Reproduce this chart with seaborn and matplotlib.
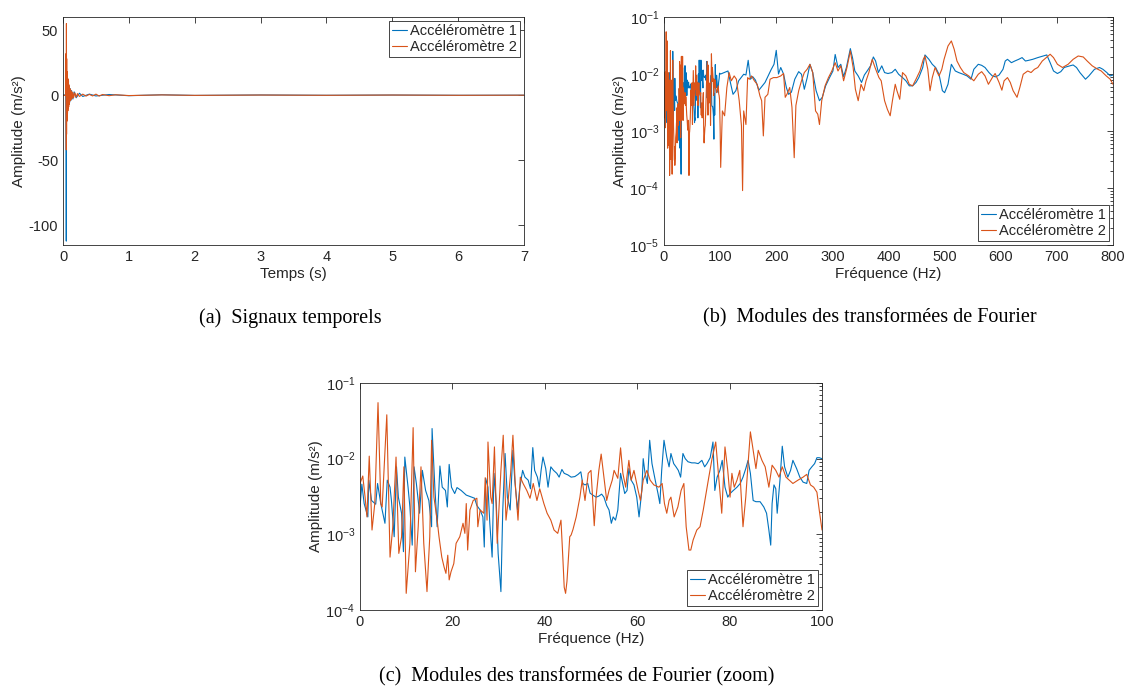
import numpy as np
import pandas as pd
import matplotlib
matplotlib.use("Agg")
import matplotlib.pyplot as plt
import seaborn as sns

# ---- data ----
labels = ["Accéléromètre 1", "Accéléromètre 2"]
colors = ["#0072BD", "#D95319"]

# (a) time signals
t_acc1 = [0.0, 0.03, 0.045, 0.048, 0.050, 0.052, 0.054, 0.056, 0.058, 0.060, 0.063,
          0.066, 0.070, 0.075, 0.080, 0.085, 0.090, 0.095, 0.100, 0.110, 0.120, 0.130,
          0.150, 0.170, 0.200, 0.250, 0.300, 0.400, 0.500, 0.700, 1.0, 1.5, 2.0, 3.0,
          4.0, 5.0, 6.0, 7.0]
a_acc1 = [0.0, 0.2, -0.5, -45, -112, 17, -20, 16, -15, 13, -12,
          11, -10, 9, -8, 7.5, -7, 6, -5.5, 5, -4, 3.5,
          -3, 2.5, -2, 1.5, -1.0, 0.8, -0.6, 0.5, -0.4, 0.3, -0.2, 0.15,
          -0.1, 0.1, -0.1, 0.0]
t_acc2 = [0.0, 0.03, 0.045, 0.048, 0.050, 0.052, 0.054, 0.056, 0.058, 0.060, 0.062,
          0.065, 0.068, 0.071, 0.074, 0.077, 0.080, 0.083, 0.086, 0.089, 0.092, 0.095,
          0.100, 0.105, 0.110, 0.115, 0.120, 0.130, 0.140, 0.150, 0.160, 0.180, 0.200,
          0.220, 0.250, 0.300, 0.350, 0.400, 0.450, 0.500, 0.550, 0.600, 0.700, 0.800,
          1.0, 1.5, 2.0, 3.0, 4.0, 5.0, 6.0, 7.0]
a_acc2 = [0.0, -0.2, 0.5, 32, -42, 55, -30, 28, -20, 18, -16,
          15, -14, 13, -12, 12, -10, 11, -9, 8, -7, 6,
          -5, 5, -4, 4, -3.5, 3, -2.5, 2.2, -2, 1.8, -1.5,
          1.2, -1.0, 0.8, -0.7, 0.6, -0.6, 0.8, -0.7, 0.5, -0.4, 0.3,
          -0.3, 0.2, -0.15, 0.1, -0.1, 0.1, -0.1, 0.0]

# (c) Fourier modules 0-100 Hz
f_low_acc1 = [0.0, 0.4, 0.9, 1.7, 1.9, 2.5, 3.4, 3.8, 4.5, 5.4, 5.9, 6.5, 6.8, 7.4, 7.9,
              8.3, 9.0, 9.4, 9.7, 10.4, 10.8, 11.3, 11.7, 12.2, 12.9, 13.5, 14.2, 14.9,
              15.5, 15.6, 16.2, 16.7, 17.3, 17.8, 18.5, 18.9, 19.3, 19.8, 20.5, 21.0,
              21.9, 23.0, 24.8, 25.3, 26.0, 26.6, 26.9, 27.2, 27.7, 28.1, 28.6, 29.0,
              29.5, 29.9, 30.5, 30.9, 31.4, 31.9, 32.5, 33.1, 33.5, 34.1, 34.6, 35.2,
              35.7, 36.4, 36.9, 37.4, 37.8, 38.4, 38.8, 39.2, 39.6, 40.2, 40.7, 41.3,
              41.9, 42.6, 43.1, 43.7, 44.2, 45.0, 45.7, 46.5, 47.2, 47.8, 48.2, 48.7,
              49.3, 49.8, 50.4, 51.1, 51.7, 52.3, 52.8, 53.4, 53.9, 54.4, 54.8, 55.3,
              55.8, 56.4, 56.7, 57.3, 57.8, 58.2, 58.7, 59.3, 59.9, 60.4, 61.0, 61.3,
              61.7, 62.2, 62.7, 63.2, 63.9, 64.5, 64.9, 65.3, 65.8, 66.4, 66.9, 67.3,
              67.9, 68.4, 68.9, 69.4, 69.9, 70.4, 71.0, 71.8, 72.5, 73.2, 74.0, 74.6,
              75.1, 75.8, 76.4, 76.8, 77.3, 77.9, 78.4, 79.0, 79.6, 80.1, 80.8, 81.6,
              82.3, 82.9, 83.5, 84.0, 84.5, 85.1, 85.7, 86.6, 87.4, 88.0, 88.5, 88.9,
              89.2, 89.6, 90.0, 90.3, 90.9, 91.4, 91.9, 92.6, 93.2, 93.7, 94.5, 95.2,
              95.9, 96.7, 97.2, 97.8, 98.4, 98.9, 99.4, 100.0]
m_low_acc1 = [2.3e-3, 4.6e-3, 2.55e-3, 1.7e-3, 5.2e-3, 2.8e-3, 2.5e-3, 4.7e-3, 2.55e-3,
              1.4e-3, 5.2e-3, 4.2e-3, 2.8e-3, 9.3e-4, 7.8e-3, 3.1e-3, 1.9e-3, 5.9e-4,
              1.05e-2, 4.2e-3, 2.3e-3, 7.2e-4, 7.8e-3, 4.7e-3, 1.9e-3, 7.0e-3, 3.8e-3,
              2.8e-3, 1.26e-3, 2.5e-2, 4.2e-3, 1.26e-3, 8.0e-3, 4.2e-3, 3.8e-3, 2.3e-3,
              8.4e-3, 4.2e-3, 3.46e-3, 4.15e-3, 3.8e-3, 3.3e-3, 3.0e-3, 2.4e-3, 2.1e-3,
              1.7e-3, 6.8e-4, 5.5e-3, 4.2e-3, 1.4e-3, 5.0e-4, 6.4e-3, 2.55e-3, 5.6e-4,
              1.75e-4, 2.1e-3, 1.17e-2, 3.1e-3, 2.1e-3, 1.29e-2, 5.2e-3, 2.1e-3, 4.2e-3,
              7.0e-3, 5.7e-3, 5.2e-3, 4.0e-3, 1.4e-2, 7.0e-3, 5.7e-3, 4.2e-3, 7.0e-3,
              1.05e-2, 7.4e-3, 4.2e-3, 7.8e-3, 7.0e-3, 6.4e-3, 5.7e-3, 7.2e-3, 6.4e-3,
              6.1e-3, 5.7e-3, 5.8e-3, 6.2e-3, 6.7e-3, 4.7e-3, 4.5e-3, 4.7e-3, 3.5e-3,
              3.3e-3, 3.1e-3, 3.2e-3, 3.4e-3, 3.1e-3, 2.4e-3, 2.1e-3, 1.4e-3, 1.7e-3,
              1.54e-3, 2.1e-3, 6.4e-3, 5.2e-3, 3.46e-3, 3.8e-3, 7.4e-3, 5.2e-3, 4.5e-3,
              3.1e-3, 1.7e-3, 3.8e-3, 1.0e-2, 6.4e-3, 4.7e-3, 1.75e-2, 8.6e-3, 5.2e-3,
              3.46e-3, 2.55e-3, 7.0e-3, 1.75e-2, 1.05e-2, 7.8e-3, 1.17e-2, 8.6e-3,
              7.8e-3, 7.0e-3, 5.7e-3, 1.17e-2, 1.0e-2, 9.1e-3, 8.8e-3, 8.8e-3, 8.6e-3,
              9.5e-3, 7.8e-3, 8.6e-3, 1.03e-2, 1.66e-2, 3.8e-3, 5.7e-3, 7.0e-3, 9.5e-3,
              4.2e-3, 3.1e-3, 3.46e-3, 3.8e-3, 4.2e-3, 4.7e-3, 5.7e-3, 7.4e-3, 9.5e-3,
              6.4e-3, 2.8e-3, 2.7e-3, 2.7e-3, 2.3e-3, 1.9e-3, 1.14e-3, 7.2e-4, 2.55e-3,
              4.5e-3, 4.0e-3, 1.9e-3, 5.2e-3, 1.46e-2, 7.8e-3, 5.7e-3, 7.0e-3, 9.5e-3,
              7.4e-3, 5.7e-3, 4.9e-3, 4.7e-3, 7.0e-3, 7.8e-3, 8.6e-3, 1.03e-2, 1.03e-2,
              1.0e-2]
f_low_acc2 = [0.0, 0.6, 1.1, 1.5, 2.0, 2.6, 3.2, 3.9, 4.5, 4.8, 5.8, 6.5, 7.1, 7.8, 8.4,
              9.0, 9.5, 10.0, 10.8, 11.5, 12.0, 12.6, 13.2, 13.8, 14.5, 15.1, 15.5, 16.0,
              16.7, 17.1, 17.7, 18.2, 18.6, 19.0, 19.3, 19.7, 20.3, 20.8, 21.6, 22.3,
              22.7, 23.0, 23.3, 23.8, 24.5, 25.3, 25.5, 26.0, 26.8, 27.1, 27.5, 27.7,
              28.3, 28.6, 29.1, 29.7, 30.5, 31.0, 31.6, 32.0, 32.6, 33.1, 33.6, 34.2,
              34.7, 35.3, 36.1, 36.8, 37.5, 38.3, 38.9, 39.8, 40.5, 41.3, 42.0, 42.8,
              43.5, 43.9, 44.2, 44.5, 44.8, 45.4, 45.7, 46.1, 46.8, 47.6, 48.1, 48.7,
              49.4, 50.0, 50.7, 51.1, 51.7, 52.2, 52.8, 53.4, 53.9, 54.6, 55.0, 55.8,
              56.4, 56.9, 57.5, 58.2, 58.7, 59.3, 60.2, 60.7, 61.3, 62.1, 62.8, 63.6,
              64.7, 65.4, 65.9, 66.4, 66.9, 67.3, 68.0, 68.8, 69.5, 70.1, 70.6, 71.2,
              71.6, 72.1, 72.9, 73.6, 74.3, 74.9, 75.5, 76.2, 77.0, 77.7, 78.3, 79.0,
              79.6, 80.1, 80.5, 81.0, 81.6, 82.2, 82.9, 83.5, 84.0, 84.5, 85.1, 85.7,
              86.2, 87.0, 87.7, 88.5, 89.2, 90.0, 90.7, 91.4, 92.2, 92.9, 93.7, 94.8,
              95.9, 96.7, 97.5, 98.2, 98.9, 99.4, 100.0]
m_low_acc2 = [4.7e-3, 5.9e-3, 3.1e-3, 1.7e-3, 1.08e-2, 1.14e-3, 2.55e-3, 5.5e-2, 2.55e-3,
              2.3e-3, 3.8e-2, 5.0e-4, 1.26e-3, 1.05e-2, 5.6e-4, 9.3e-4, 7.8e-3, 1.66e-4,
              7.6e-4, 2.57e-2, 3.2e-4, 1.26e-3, 7.8e-3, 7.6e-4, 1.75e-4, 9.3e-4, 1.75e-2,
              3.1e-3, 1.54e-3, 9.3e-4, 5.0e-4, 3.7e-4, 3.05e-4, 5.3e-4, 2.5e-4, 3.2e-4,
              4.1e-4, 7.6e-4, 9.3e-4, 1.4e-3, 1.03e-3, 2.55e-3, 6.2e-4, 2.1e-3, 2.8e-3,
              3.0e-3, 1.26e-3, 2.1e-3, 1.9e-3, 5.6e-3, 1.54e-3, 1.66e-2, 3.1e-3, 2.55e-3,
              1.43e-2, 7.6e-4, 7.0e-3, 2.04e-2, 1.54e-3, 2.55e-3, 6.4e-3, 2.04e-2, 4.7e-3,
              1.54e-3, 5.7e-3, 4.7e-3, 3.8e-3, 3.0e-3, 4.7e-3, 2.8e-3, 4.0e-3, 2.55e-3,
              1.9e-3, 1.54e-3, 1.14e-3, 1.03e-3, 1.54e-3, 5.0e-4, 2.0e-4, 1.66e-4, 2.4e-4,
              9.3e-4, 9.8e-4, 1.16e-3, 1.7e-3, 3.1e-3, 5.2e-3, 2.8e-3, 6.4e-3, 7.0e-3,
              1.3e-3, 3.1e-3, 7.0e-3, 1.15e-2, 5.7e-3, 2.8e-3, 3.8e-3, 5.2e-3, 7.0e-3,
              5.5e-3, 1.39e-2, 6.4e-3, 4.2e-3, 9.5e-3, 5.2e-3, 7.0e-3, 3.8e-3, 2.8e-3,
              5.2e-3, 7.0e-3, 5.2e-3, 4.5e-3, 4.2e-3, 4.7e-3, 2.55e-3, 1.9e-3, 2.8e-3,
              3.1e-3, 1.7e-3, 2.3e-3, 3.8e-3, 4.7e-3, 1.26e-3, 6.2e-4, 6.2e-4, 8.4e-4,
              1.14e-3, 1.26e-3, 2.1e-3, 3.46e-3, 5.7e-3, 1.0e-2, 1.66e-2, 5.2e-3, 1.9e-3,
              1.43e-2, 7.0e-3, 3.1e-3, 6.4e-3, 4.2e-3, 5.2e-3, 7.0e-3, 1.26e-3, 3.1e-3,
              8.6e-3, 2.26e-2, 1.29e-2, 7.4e-3, 1.29e-2, 9.5e-3, 7.8e-3, 4.2e-3, 8.2e-3,
              7.0e-3, 5.7e-3, 7.8e-3, 5.7e-3, 5.2e-3, 4.7e-3, 5.2e-3, 5.7e-3, 6.2e-3,
              4.5e-3, 4.2e-3, 3.6e-3, 2.1e-3, 1.14e-3]

# (b) Fourier modules above 100 Hz (joined to the 0-100 Hz arrays)
f_high_acc1 = [101, 114, 119, 123, 128, 133, 142, 146, 150, 154, 158, 163, 169, 174, 180,
               187, 191, 196, 200, 204, 208, 213, 218, 222, 227, 233, 240, 245, 250, 255,
               260, 265, 271, 277, 282, 288, 295, 301, 305, 310, 315, 320, 325, 332, 336,
               340, 346, 352, 357, 362, 368, 373, 377, 382, 388, 393, 399, 406, 412, 418,
               425, 431, 437, 443, 449, 454, 461, 465, 472, 478, 484, 490, 496, 500, 506,
               512, 519, 525, 533, 540, 547, 552, 560, 566, 572, 579, 585, 591, 597, 604,
               608, 612, 619, 625, 632, 638, 644, 650, 657, 666, 676, 682, 688, 694, 701,
               707, 713, 723, 729, 735, 741, 751, 757, 767, 776, 782, 789, 795, 800]
m_high_acc1 = [1.0e-2, 1.13e-2, 6.6e-3, 4.4e-3, 5.1e-3, 7.6e-3, 9.9e-3, 9.6e-3, 1.74e-2,
               8.1e-3, 9.0e-3, 7.8e-3, 5.2e-3, 6.0e-3, 7.1e-3, 9.9e-3, 1.2e-2, 1.48e-2,
               2.6e-2, 1.0e-2, 1.3e-2, 1.0e-2, 5.8e-3, 4.4e-3, 4.8e-3, 8.1e-3, 1.1e-2,
               9.9e-3, 5.4e-3, 8.5e-3, 1.48e-2, 1.06e-2, 5.1e-3, 3.4e-3, 3.9e-3, 6.2e-3,
               8.65e-3, 1.13e-2, 2.2e-2, 1.3e-2, 1.48e-2, 9.0e-3, 1.3e-2, 2.79e-2, 1.9e-2,
               1.13e-2, 9.25e-3, 7.1e-3, 9.6e-3, 1.13e-2, 1.39e-2, 1.99e-2, 1.69e-2,
               1.06e-2, 1.39e-2, 1.06e-2, 1.02e-2, 1.06e-2, 1.21e-2, 9.9e-3, 8.65e-3,
               7.6e-3, 6.2e-3, 6.2e-3, 7.1e-3, 8.65e-3, 1.3e-2, 2.16e-2, 1.81e-2, 1.48e-2,
               1.3e-2, 9.9e-3, 5.1e-3, 4.7e-3, 6.6e-3, 1.48e-2, 1.13e-2, 1.06e-2, 9.9e-3,
               9.25e-3, 8.1e-3, 1.21e-2, 1.48e-2, 1.42e-2, 1.3e-2, 1.06e-2, 9.25e-3,
               8.9e-3, 9.6e-3, 1.21e-2, 1.69e-2, 1.81e-2, 1.58e-2, 1.69e-2, 1.81e-2,
               1.94e-2, 1.69e-2, 1.74e-2, 1.81e-2, 1.94e-2, 2.07e-2, 2.16e-2, 1.58e-2,
               1.13e-2, 1.02e-2, 1.1e-2, 1.3e-2, 1.39e-2, 1.44e-2, 1.3e-2, 1.06e-2, 8.1e-3,
               9.25e-3, 1.21e-2, 1.3e-2, 1.21e-2, 1.06e-2, 9.25e-3, 9.6e-3]
f_high_acc2 = [101, 104, 108, 112, 116, 120, 125, 129, 134, 138, 140, 142, 146, 149, 152,
               156, 161, 166, 171, 174, 177, 180, 185, 189, 195, 201, 208, 213, 216, 219,
               224, 228, 232, 235, 240, 245, 250, 255, 260, 265, 270, 274, 277, 281, 287,
               293, 299, 305, 310, 315, 320, 326, 332, 337, 341, 346, 351, 356, 360, 365,
               371, 376, 383, 387, 393, 398, 403, 407, 412, 415, 420, 425, 431, 437, 443,
               449, 456, 462, 465, 470, 474, 478, 483, 487, 490, 495, 499, 506, 512, 517,
               522, 528, 534, 543, 552, 560, 566, 572, 578, 585, 590, 597, 602, 606, 612,
               617, 622, 629, 634, 640, 648, 654, 660, 666, 674, 688, 694, 701, 710, 720,
               729, 738, 747, 754, 763, 773, 779, 788, 795, 800]
m_high_acc2 = [2.3e-4, 2.25e-3, 1.85e-3, 5.8e-3, 1.06e-2, 7.6e-3, 9.25e-3, 8.1e-3, 3.4e-3,
               1.23e-3, 9.0e-5, 2.25e-3, 1.3e-3, 8.65e-3, 8.1e-3, 9.25e-3, 7.6e-3, 6.6e-3,
               4.1e-3, 3.4e-3, 8.2e-4, 3.9e-3, 4.4e-3, 8.1e-3, 8.65e-3, 8.65e-3, 9.25e-3,
               1.02e-2, 3.9e-3, 4.4e-3, 5.8e-3, 2.6e-3, 3.4e-4, 2.8e-3, 5.1e-3, 7.6e-3,
               1.06e-2, 1.21e-2, 1.48e-2, 1.06e-2, 2.25e-3, 1.97e-3, 1.3e-3, 3.4e-3, 6.2e-3,
               8.65e-3, 1.13e-2, 1.58e-2, 1.13e-2, 1.39e-2, 7.6e-3, 1.3e-2, 2.54e-2, 1.3e-2,
               5.4e-3, 3.4e-3, 6.6e-3, 5.1e-3, 7.6e-3, 1.06e-2, 1.81e-2, 1.3e-2, 8.65e-3,
               7.6e-3, 3.4e-3, 2.4e-3, 1.85e-3, 3.4e-3, 6.6e-3, 5.1e-3, 3.6e-3, 1.06e-2,
               9.25e-3, 6.6e-3, 6.2e-3, 8.1e-3, 1.13e-2, 1.81e-2, 2.07e-2, 1.21e-2, 5.1e-3,
               8.65e-3, 1.3e-2, 1.06e-2, 9.25e-3, 1.21e-2, 1.81e-2, 3.1e-2, 3.8e-2, 2.72e-2,
               1.69e-2, 1.3e-2, 1.06e-2, 9.25e-3, 7.6e-3, 9.9e-3, 1.1e-2, 9.25e-3, 6.6e-3,
               8.65e-3, 1.02e-2, 7.1e-3, 5.2e-3, 7.6e-3, 8.65e-3, 7.1e-3, 5.1e-3, 3.9e-3,
               5.8e-3, 9.9e-3, 1.13e-2, 1.06e-2, 1.21e-2, 1.3e-2, 1.69e-2, 2.22e-2, 1.94e-2,
               1.48e-2, 1.3e-2, 1.48e-2, 1.81e-2, 2.07e-2, 1.99e-2, 1.69e-2, 1.39e-2,
               1.21e-2, 1.13e-2, 9.25e-3, 8.1e-3, 6.6e-3]

# ---- style ----
sns.set_style("white")
plt.rcParams["font.family"] = ["Liberation Sans", "DejaVu Sans"]
plt.rcParams["axes.unicode_minus"] = False
plt.rcParams["axes.edgecolor"] = "#262626"
plt.rcParams["axes.linewidth"] = 0.6
plt.rcParams["xtick.color"] = "#262626"
plt.rcParams["ytick.color"] = "#262626"
plt.rcParams["text.color"] = "#262626"
plt.rcParams["axes.labelcolor"] = "#262626"

fig = plt.figure(figsize=(11.39, 6.93), dpi=100)
W, H = 1139, 693


def add_axes(left, right, top, bottom):
    return fig.add_axes([left / W, 1 - bottom / H, (right - left) / W, (bottom - top) / H])


def draw(ax, series):
    for (x, y), lab, col in zip(series, labels, colors):
        df = pd.DataFrame({"x": x, "y": y})
        sns.lineplot(data=df, x="x", y="y", ax=ax, color=col, lw=0.8, label=lab,
                     estimator=None, sort=False)


def dress(ax, loc, ylabel="Amplitude (m/s²)", xlabel=""):
    ax.tick_params(which="both", direction="in", top=True, right=True, labelsize=10.5,
                   width=0.6)
    ax.tick_params(which="major", length=4)
    ax.tick_params(which="minor", length=2)
    ax.set_xlabel(xlabel, fontsize=11, labelpad=2)
    ax.set_ylabel(ylabel, fontsize=11, labelpad=2)
    leg = ax.legend(loc=loc, fontsize=10.5, handlelength=1.0, handletextpad=0.2,
                    borderpad=0.2, labelspacing=0.1, borderaxespad=0.3,
                    fancybox=False, framealpha=1)
    leg.get_frame().set_edgecolor("#262626")
    leg.get_frame().set_linewidth(0.6)


# (a)
ax_a = add_axes(63, 524, 17, 245)
draw(ax_a, [(t_acc1, a_acc1), (t_acc2, a_acc2)])
ax_a.set_xlim(0, 7)
ax_a.set_ylim(-115, 60)
ax_a.set_xticks(range(0, 8))
ax_a.set_yticks([-100, -50, 0, 50])
dress(ax_a, "upper right", xlabel="Temps (s)")

# (b)
ax_b = add_axes(664, 1113, 17, 245)
draw(ax_b, [(f_low_acc1 + f_high_acc1, m_low_acc1 + m_high_acc1),
            (f_low_acc2 + f_high_acc2, m_low_acc2 + m_high_acc2)])
ax_b.set_yscale("log")
ax_b.set_xlim(0, 800)
ax_b.set_ylim(1e-5, 1e-1)
ax_b.set_xticks(range(0, 801, 100))
dress(ax_b, "lower right", xlabel="Fréquence (Hz)")

# (c)
ax_c = add_axes(360, 822, 383, 610)
draw(ax_c, [(f_low_acc1, m_low_acc1), (f_low_acc2, m_low_acc2)])
ax_c.set_yscale("log")
ax_c.set_xlim(0, 100)
ax_c.set_ylim(1e-4, 1e-1)
ax_c.set_xticks(range(0, 101, 20))
dress(ax_c, "lower right", xlabel="Fréquence (Hz)")

cap = dict(fontsize=14.5, family=["Liberation Serif", "DejaVu Serif"], color="black",
           ha="center", va="center")
fig.text(290 / W, 1 - 318 / H, "(a)  Signaux temporels", **cap)
fig.text(870 / W, 1 - 318 / H, "(b)  Modules des transformées de Fourier", **cap)
fig.text(577 / W, 1 - 677 / H, "(c)  Modules des transformées de Fourier (zoom)", **cap)

fig.savefig("out.png", dpi=100, facecolor="white")
